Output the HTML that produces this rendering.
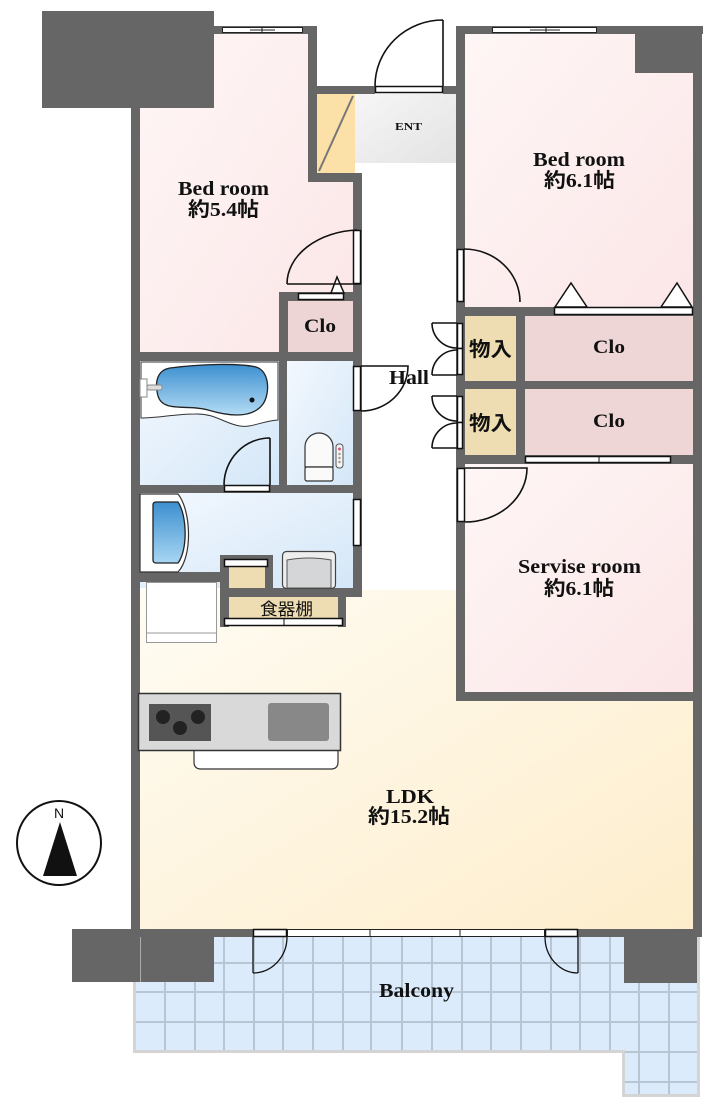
<!DOCTYPE html>
<html><head><meta charset="utf-8"><style>
html,body{margin:0;padding:0;background:#fff;}
svg{display:block;}
text{font-family:"Liberation Serif","Noto Sans CJK JP",serif;font-weight:bold;fill:#111;}
</style></head><body>
<svg width="712" height="1110" viewBox="0 0 712 1110" xmlns="http://www.w3.org/2000/svg">
<defs>
<linearGradient id="pink" x1="0" y1="0" x2="1" y2="1"><stop offset="0" stop-color="#fef6f6"/><stop offset="1" stop-color="#fce6e7"/></linearGradient>
<linearGradient id="ldk" x1="0" y1="0" x2="1" y2="1"><stop offset="0" stop-color="#fffcf3"/><stop offset="1" stop-color="#fdedcb"/></linearGradient>
<linearGradient id="blue" x1="0" y1="0" x2="1" y2="1"><stop offset="0" stop-color="#f3f8fe"/><stop offset="1" stop-color="#d4e7f8"/></linearGradient>
<linearGradient id="ent" x1="0" y1="0" x2="1" y2="1"><stop offset="0" stop-color="#f6f6f6"/><stop offset="1" stop-color="#e3e3e3"/></linearGradient>
<linearGradient id="tub" x1="0" y1="0" x2="0" y2="1"><stop offset="0" stop-color="#3d8fd0"/><stop offset="1" stop-color="#b4dcf4"/></linearGradient>
<linearGradient id="basin" x1="0" y1="0" x2="0" y2="1"><stop offset="0" stop-color="#3d8fd0"/><stop offset="1" stop-color="#a8d6f2"/></linearGradient>
</defs>
<rect x="0" y="0" width="712" height="1110" fill="#fff"/>

<!-- floors -->
<rect x="140" y="590" width="554" height="340" fill="url(#ldk)"/>
<polygon points="140,34 308,34 308,182 353,182 353,352 140,352" fill="url(#pink)"/>
<rect x="465" y="34" width="228" height="274" fill="url(#pink)"/>
<rect x="465" y="464" width="228" height="229" fill="url(#pink)"/>
<rect x="355" y="94" width="102" height="69" fill="url(#ent)"/>
<rect x="317" y="94" width="38" height="79" fill="#fbe1a8"/>
<line x1="319" y1="171" x2="353" y2="96" stroke="#777" stroke-width="2"/>
<rect x="288" y="301" width="65" height="51" fill="#eed5d5"/>
<rect x="140" y="361" width="139" height="124" fill="url(#blue)"/>
<rect x="287" y="361" width="66" height="124" fill="url(#blue)"/>
<rect x="140" y="493" width="213" height="95" fill="url(#blue)"/>
<rect x="465" y="316" width="51" height="65" fill="#eedcb2"/>
<rect x="465" y="389" width="51" height="66" fill="#eedcb2"/>
<rect x="525" y="316" width="168" height="65" fill="#eed5d6"/>
<rect x="525" y="389" width="168" height="66" fill="#eed5d6"/>
<rect x="229" y="567" width="36" height="21" fill="#eedcb2"/>
<rect x="229" y="597" width="109" height="21" fill="#eedcb2"/>

<!-- balcony -->
<polygon points="133,937 700,937 700,1097 622,1097 622,1053 133,1053" fill="#dcebfb"/>
<g stroke="#b8c5d2" stroke-width="2">
<line x1="165" y1="937" x2="165" y2="1052"/><line x1="195" y1="937" x2="195" y2="1052"/>
<line x1="224" y1="937" x2="224" y2="1052"/><line x1="254" y1="937" x2="254" y2="1052"/>
<line x1="283" y1="937" x2="283" y2="1052"/><line x1="313" y1="937" x2="313" y2="1052"/>
<line x1="343" y1="937" x2="343" y2="1052"/><line x1="371" y1="937" x2="371" y2="1052"/>
<line x1="402" y1="937" x2="402" y2="1052"/><line x1="432" y1="937" x2="432" y2="1052"/>
<line x1="462" y1="937" x2="462" y2="1052"/><line x1="491" y1="937" x2="491" y2="1052"/>
<line x1="521" y1="937" x2="521" y2="1052"/><line x1="551" y1="937" x2="551" y2="1052"/>
<line x1="580" y1="937" x2="580" y2="1052"/><line x1="610" y1="937" x2="610" y2="1052"/>
<line x1="639" y1="937" x2="639" y2="1096"/><line x1="669" y1="937" x2="669" y2="1096"/>
<line x1="134" y1="963" x2="699" y2="963"/><line x1="134" y1="992" x2="699" y2="992"/>
<line x1="134" y1="1022" x2="699" y2="1022"/><line x1="622" y1="1052" x2="699" y2="1052"/>
<line x1="622" y1="1082" x2="699" y2="1082"/>
</g>
<g stroke="#d4d4d4" stroke-width="3" fill="none">
<polyline points="134.5,937 134.5,1051.5 623.5,1051.5 623.5,1095.5 698.5,1095.5 698.5,937"/>
</g>

<!-- walls -->
<g fill="#666">
<rect x="42" y="11" width="172" height="97"/>
<rect x="214" y="26" width="103" height="8"/>
<rect x="131" y="100" width="9" height="837"/>
<rect x="308" y="26" width="9" height="156"/>
<rect x="308" y="173" width="54" height="9"/>
<rect x="353" y="173" width="9" height="424"/>
<rect x="308" y="86" width="67" height="8"/>
<rect x="443" y="86" width="22" height="8"/>
<rect x="279" y="292" width="83" height="9"/>
<rect x="279" y="292" width="9" height="69"/>
<rect x="131" y="352" width="231" height="9"/>
<rect x="279" y="352" width="8" height="141"/>
<rect x="131" y="485" width="231" height="8"/>
<rect x="131" y="572" width="97" height="10"/>
<rect x="220" y="555" width="9" height="72"/>
<rect x="265" y="555" width="8" height="42"/>
<rect x="220" y="555" width="53" height="4"/>
<rect x="220" y="588" width="142" height="9"/>
<rect x="338" y="588" width="8" height="39"/>
<rect x="456" y="26" width="9" height="675"/>
<rect x="456" y="26" width="247" height="8"/>
<rect x="693" y="26" width="9" height="911"/>
<rect x="635" y="34" width="58" height="39"/>
<rect x="465" y="307" width="228" height="9"/>
<rect x="516" y="316" width="9" height="148"/>
<rect x="457" y="381" width="236" height="8"/>
<rect x="457" y="455" width="236" height="9"/>
<rect x="457" y="692" width="245" height="9"/>
<rect x="131" y="929" width="122" height="8"/>
<rect x="578" y="929" width="124" height="8"/>
<rect x="72" y="929" width="142" height="53"/>
<rect x="624" y="937" width="73" height="46"/>
</g>
<line x1="140.5" y1="937" x2="140.5" y2="982" stroke="#aaa" stroke-width="1"/>

<!-- windows -->
<g fill="#fff" stroke="#222" stroke-width="1">
<rect x="222.5" y="27.5" width="80" height="5"/>
<rect x="492.5" y="27.5" width="104" height="5"/>
<rect x="287.5" y="929.5" width="257" height="7"/>
</g>
<g stroke="#222" stroke-width="1">
<line x1="262" y1="27" x2="262" y2="33"/><line x1="250" y1="30" x2="275" y2="30"/>
<line x1="546" y1="27" x2="546" y2="33"/><line x1="530" y1="30" x2="560" y2="30"/>
<line x1="370" y1="929" x2="370" y2="937"/><line x1="460" y1="929" x2="460" y2="937"/>
</g>

<!-- doors -->
<g fill="#fff" stroke="#111" stroke-width="1.5">
<rect x="375.5" y="86.5" width="67" height="6"/>
<rect x="353.5" y="230.5" width="7" height="53"/>
<rect x="298.5" y="293.5" width="45" height="6"/>
<polygon points="331,293 337,277 344,293"/>
<rect x="353.5" y="366.5" width="7" height="44"/>
<rect x="224.5" y="485.5" width="45" height="6"/>
<rect x="353.5" y="499.5" width="7" height="46"/>
<rect x="224.5" y="559.5" width="43" height="7"/>
<rect x="224.5" y="618.5" width="118" height="7"/>
<rect x="457.5" y="249.5" width="6" height="52"/>
<rect x="554.5" y="307.5" width="138" height="7"/>
<polygon points="555,307 571,283 587,307"/>
<polygon points="661,307 677,283 692,307"/>
<rect x="457.5" y="323.5" width="5" height="25"/>
<rect x="457.5" y="348.5" width="5" height="26"/>
<rect x="457.5" y="396.5" width="5" height="26"/>
<rect x="457.5" y="422.5" width="5" height="26"/>
<rect x="525.5" y="456.5" width="145" height="6"/>
<rect x="457.5" y="468.5" width="7" height="53"/>
<rect x="253.5" y="929.5" width="33" height="7"/>
<rect x="545.5" y="929.5" width="32" height="7"/>
</g>
<g fill="none" stroke="#111" stroke-width="1.6">
<path d="M443,86 L443,20 M375,86 A68 66 0 0 1 443,20"/>
<path d="M287,284 L361,284 M287,284 A74 54 0 0 1 357,230"/>
<path d="M361,366 L408,366 A47 45 0 0 1 361,411"/>
<path d="M270,485 L270,438 M224,485 A46 47 0 0 1 270,438"/>
<path d="M464,249 A56 53 0 0 1 520,302"/>
<path d="M432,323 L457,323 M432,323 A25 25 0 0 0 457,348"/>
<path d="M432,375 L457,375 M432,375 A25 25 0 0 1 457,350"/>
<path d="M432,396 L457,396 M432,396 A25 25 0 0 0 457,421"/>
<path d="M432,448 L457,448 M432,448 A25 25 0 0 1 457,423"/>
<path d="M465,468 L527,468 A62 54 0 0 1 465,522"/>
<path d="M253,937 L253,973 M287,937 A34 36 0 0 1 253,973" stroke-width="1.3"/>
<path d="M578,937 L578,973 M545,937 A33 36 0 0 0 578,973" stroke-width="1.3"/>
</g>
<g stroke="#111" stroke-width="1"><line x1="284" y1="618" x2="284" y2="626"/><line x1="599" y1="456" x2="599" y2="463"/></g>

<!-- bath fixtures -->
<path d="M141,362 L278,362 L278,420 C262,421 252,428 240,426 C225,424 215,413 195,414 C175,414 158,418 141,418 Z" fill="#fff" stroke="#333" stroke-width="1"/>
<path d="M170,368 C200,364 238,363 256,367 C270,371 270,394 263,404 C252,419 228,416 208,410 C188,404 163,413 158,396 C154,381 158,370 170,368 Z" fill="url(#tub)" stroke="#222" stroke-width="1.3"/>
<circle cx="252" cy="400" r="2.5" fill="#111"/>
<rect x="140" y="379" width="7" height="18" fill="#fff" stroke="#888" stroke-width="1"/>
<rect x="147" y="385" width="15" height="5" rx="2" fill="#ddd" stroke="#888" stroke-width="1"/>

<!-- toilet -->
<path d="M305,467 L305,447 A14 14 0 0 1 333,447 L333,467 Z" fill="#fafafa" stroke="#333" stroke-width="1.2"/>
<rect x="305" y="467" width="28" height="14" rx="2" fill="#fafafa" stroke="#333" stroke-width="1.2"/>
<rect x="336" y="444" width="7" height="24" rx="3" fill="#f4f4f4" stroke="#555" stroke-width="1"/>
<circle cx="339.5" cy="449" r="1.5" fill="#d0587a"/>
<g fill="#999"><circle cx="339.5" cy="454" r="1.2"/><circle cx="339.5" cy="458" r="1.2"/><circle cx="339.5" cy="462" r="1.2"/></g>

<!-- washroom -->
<path d="M140,494 L178,494 C191,510 193,556 178,572 L140,572 Z" fill="#fff" stroke="#333" stroke-width="1.2"/>
<path d="M156,502 L178,502 C187,515 188,550 178,563 L156,563 Q153,563 153,560 L153,505 Q153,502 156,502 Z" fill="url(#basin)" stroke="#222" stroke-width="1.3"/>
<rect x="282.5" y="551.5" width="53" height="37" rx="4" fill="#eee" stroke="#444" stroke-width="1.2"/>
<path d="M287,588 L287,560 Q309,556 331,560 L331,588 Z" fill="#d4d6d8" stroke="#555" stroke-width="1"/>

<!-- kitchen -->
<rect x="146.5" y="582.5" width="70" height="60" fill="#fff" stroke="#999" stroke-width="1"/>
<line x1="146" y1="633" x2="217" y2="633" stroke="#999" stroke-width="1"/>
<path d="M194,751 L194,762 Q194,769 201,769 L331,769 Q338,769 338,762 L338,751" fill="#fff" stroke="#333" stroke-width="1.2"/>
<rect x="138.5" y="693.5" width="202" height="57" fill="#d9d9d9" stroke="#333" stroke-width="1.5"/>
<rect x="149" y="704" width="62" height="37" fill="#555"/>
<g fill="#222"><circle cx="163" cy="717" r="7"/><circle cx="198" cy="717" r="7"/><circle cx="180" cy="728" r="7"/></g>
<rect x="268" y="703" width="61" height="38" rx="3" fill="#888"/>

<!-- compass -->
<circle cx="59" cy="843" r="42" fill="#fff" stroke="#111" stroke-width="2"/>
<polygon points="60,822 43,876 77,876" fill="#111"/>
<text x="59" y="818" text-anchor="middle" font-size="14" style="font-family:'Liberation Sans',sans-serif;font-weight:normal">N</text>

<!-- labels -->
<text x="223.5" y="195" text-anchor="middle" font-size="20" textLength="91" lengthAdjust="spacingAndGlyphs">Bed room</text>
<text x="223.5" y="216" text-anchor="middle" font-size="20" textLength="71" lengthAdjust="spacingAndGlyphs">約5.4帖</text>
<text x="579" y="166" text-anchor="middle" font-size="20" textLength="92" lengthAdjust="spacingAndGlyphs">Bed room</text>
<text x="579.5" y="187" text-anchor="middle" font-size="20" textLength="71" lengthAdjust="spacingAndGlyphs">約6.1帖</text>
<text x="408.5" y="130" text-anchor="middle" font-size="11" textLength="27" lengthAdjust="spacingAndGlyphs">ENT</text>
<text x="320" y="332" text-anchor="middle" font-size="19" textLength="32" lengthAdjust="spacingAndGlyphs">Clo</text>
<text x="409" y="384" text-anchor="middle" font-size="20" textLength="40" lengthAdjust="spacingAndGlyphs">Hall</text>
<text x="609" y="353" text-anchor="middle" font-size="19" textLength="32" lengthAdjust="spacingAndGlyphs">Clo</text>
<text x="609" y="427" text-anchor="middle" font-size="19" textLength="32" lengthAdjust="spacingAndGlyphs">Clo</text>
<text x="490.5" y="356" text-anchor="middle" font-size="20" textLength="43" lengthAdjust="spacingAndGlyphs">物入</text>
<text x="490.5" y="430" text-anchor="middle" font-size="20" textLength="43" lengthAdjust="spacingAndGlyphs">物入</text>
<text x="286.5" y="615" text-anchor="middle" font-size="17" textLength="53" lengthAdjust="spacingAndGlyphs" style="font-weight:normal">食器棚</text>
<text x="579.5" y="573" text-anchor="middle" font-size="20" textLength="123" lengthAdjust="spacingAndGlyphs">Servise room</text>
<text x="579" y="595" text-anchor="middle" font-size="20" textLength="70" lengthAdjust="spacingAndGlyphs">約6.1帖</text>
<text x="410" y="803" text-anchor="middle" font-size="20" textLength="48" lengthAdjust="spacingAndGlyphs">LDK</text>
<text x="409" y="823" text-anchor="middle" font-size="20" textLength="82" lengthAdjust="spacingAndGlyphs">約15.2帖</text>
<text x="416.5" y="997" text-anchor="middle" font-size="20" textLength="75" lengthAdjust="spacingAndGlyphs">Balcony</text>
</svg>
</body></html>
